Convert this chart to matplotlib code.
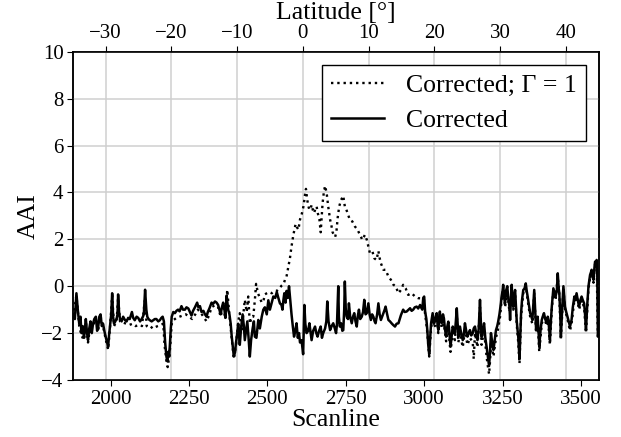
import matplotlib
matplotlib.use('Agg')
import matplotlib.pyplot as plt

# Corrected AAI (solid)
scan_corr = [
    1881, 1886, 1891, 1896, 1900, 1904, 1907, 1911, 1915, 1918, 1921, 1925, 1928, 1932, 1936, 1940,
    1944, 1948, 1953, 1957, 1960, 1964, 1968, 1972, 1976, 1980, 1985, 1989, 1992, 1995, 1998, 2002,
    2005, 2008, 2011, 2015, 2019, 2022, 2024, 2027, 2030, 2035, 2040, 2046, 2051, 2056, 2061, 2068,
    2072, 2077, 2083, 2088, 2094, 2099, 2103, 2106, 2110, 2114, 2117, 2121, 2125, 2131, 2136, 2141,
    2146, 2152, 2157, 2162, 2166, 2170, 2174, 2178, 2181, 2184, 2187, 2189, 2192, 2195, 2200, 2205,
    2210, 2215, 2220, 2226, 2231, 2237, 2242, 2248, 2253, 2258, 2263, 2269, 2276, 2280, 2285, 2290,
    2296, 2301, 2306, 2310, 2315, 2319, 2322, 2327, 2333, 2338, 2343, 2347, 2351, 2355, 2359, 2363,
    2366, 2370, 2375, 2379, 2383, 2386, 2389, 2393, 2397, 2400, 2404, 2407, 2412, 2416, 2421, 2425,
    2428, 2432, 2436, 2440, 2444, 2448, 2453, 2457, 2460, 2465, 2471, 2476, 2482, 2487, 2492, 2498,
    2503, 2508, 2514, 2519, 2525, 2530, 2535, 2540, 2545, 2548, 2551, 2554, 2558, 2561, 2565, 2569,
    2573, 2577, 2581, 2585, 2589, 2593, 2597, 2601, 2604, 2609, 2614, 2618, 2621, 2625, 2630, 2634,
    2638, 2641, 2646, 2652, 2656, 2660, 2665, 2670, 2674, 2678, 2684, 2688, 2691, 2695, 2700, 2705,
    2710, 2715, 2719, 2722, 2726, 2728, 2731, 2735, 2739, 2742, 2745, 2747, 2750, 2753, 2757, 2760,
    2764, 2769, 2773, 2777, 2781, 2785, 2788, 2792, 2796, 2801, 2805, 2809, 2813, 2817, 2822, 2826,
    2830, 2834, 2838, 2842, 2845, 2850, 2854, 2858, 2862, 2866, 2870, 2874, 2877, 2882, 2886, 2891,
    2896, 2901, 2907, 2912, 2918, 2922, 2926, 2930, 2933, 2938, 2944, 2950, 2955, 2960, 2965, 2970,
    2976, 2981, 2987, 2990, 2994, 2997, 3000, 3003, 3007, 3010, 3013, 3016, 3019, 3022, 3027, 3031,
    3034, 3037, 3040, 3043, 3045, 3048, 3050, 3053, 3056, 3060, 3063, 3066, 3070, 3074, 3077, 3080,
    3084, 3088, 3091, 3095, 3098, 3101, 3104, 3107, 3109, 3112, 3114, 3118, 3123, 3127, 3130, 3134,
    3138, 3142, 3146, 3150, 3155, 3158, 3162, 3166, 3170, 3174, 3178, 3181, 3183, 3187, 3191, 3195,
    3199, 3203, 3207, 3210, 3213, 3217, 3221, 3225, 3229, 3233, 3236, 3240, 3242, 3245, 3247, 3250,
    3252, 3255, 3258, 3261, 3265, 3268, 3272, 3274, 3277, 3279, 3282, 3284, 3287, 3290, 3293, 3295,
    3298, 3300, 3304, 3307, 3309, 3312, 3316, 3320, 3324, 3327, 3330, 3334, 3338, 3342, 3345, 3348,
    3351, 3354, 3357, 3360, 3362, 3365, 3367, 3371, 3375, 3378, 3382, 3386, 3391, 3394, 3396, 3399,
    3401, 3404, 3407, 3410, 3412, 3416, 3419, 3423, 3426, 3429, 3431, 3434, 3436, 3440, 3444, 3447,
    3449, 3453, 3457, 3461, 3465, 3470, 3474, 3479, 3482, 3486, 3490, 3494, 3498, 3502, 3506, 3510,
    3513, 3516, 3520, 3524, 3527, 3529, 3532, 3534, 3537, 3540, 3543, 3545, 3548, 3550, 3552, 3554,
    3556,
]
aai_corr = [
    -1.2, -1.4, -0.3, -1.1, -1.6, -1.3, -2.0, -1.7, -2.2, -1.9, -1.4, -2.0, -2.3, -1.8, -1.5, -2.0,
    -1.6, -1.4, -1.3, -1.9, -1.8, -1.3, -1.2, -1.7, -1.6, -1.9, -2.2, -2.4, -2.6, -2.1, -1.7, -1.2,
    -0.3, -1.3, -1.6, -1.5, -1.4, -1.2, -0.35, -1.1, -1.4, -1.5, -1.3, -1.45, -1.5, -1.35, -1.4, -1.1,
    -1.35, -1.45, -1.3, -1.35, -1.5, -1.4, -1.3, -1.2, -0.15, -1.0, -1.3, -1.4, -1.45, -1.5, -1.45, -1.4,
    -1.4, -1.5, -1.45, -1.35, -1.3, -1.5, -2.4, -3.0, -3.2, -2.8, -3.0, -2.5, -1.8, -1.3, -1.1, -1.15,
    -1.05, -1.0, -1.07, -0.85, -1.0, -1.0, -0.9, -0.95, -1.1, -1.25, -1.05, -0.9, -0.7, -0.9, -0.85, -1.1,
    -1.05, -1.2, -1.3, -1.1, -0.95, -0.8, -0.7, -0.75, -0.65, -0.7, -0.8, -1.0, -1.2, -0.9, -0.7, -1.0,
    -1.35, -0.4, -1.0, -1.2, -1.6, -2.1, -2.5, -3.0, -2.8, -2.4, -2.0, -1.6, -2.5, -1.8, -1.2, -1.7,
    -2.3, -1.9, -1.5, -2.2, -3.0, -2.3, -1.8, -1.5, -2.15, -2.2, -1.44, -1.8, -1.3, -1.0, -0.9, -1.2,
    -0.6, -1.0, -0.7, -0.44, -0.5, -0.25, -0.5, -0.73, -0.8, -1.0, -0.6, -0.3, -0.7, -0.2, -0.5, 0.0,
    -0.6, -1.2, -1.7, -2.15, -1.9, -1.58, -2.2, -2.0, -2.4, -2.3, -2.9, -0.8, -1.6, -2.0, -1.9, -1.58,
    -2.0, -2.3, -1.9, -1.72, -2.0, -2.15, -1.9, -1.72, -2.2, -2.0, -1.8, -1.5, -0.65, -1.5, -1.87, -1.7,
    -1.58, -1.8, -2.0, -1.6, 0.0, -1.3, -1.72, -1.58, -1.9, -1.87, -1.0, 0.2, -1.0, -1.3, -1.4, -0.73,
    -1.3, -1.58, -1.3, -1.15, -1.5, -1.72, -1.3, -1.0, -1.4, -1.3, -1.1, -0.58, -1.2, -1.15, -0.73, -1.2,
    -1.44, -1.2, -1.3, -1.5, -1.58, -1.2, -0.73, -1.2, -1.44, -1.3, -1.15, -1.0, -0.87, -1.2, -1.44, -1.5,
    -1.58, -1.65, -1.72, -1.6, -1.58, -1.4, -1.23, -1.1, -1.0, -1.1, -1.08, -1.0, -0.94, -1.05, -1.0, -0.9,
    -0.87, -0.95, -0.8, -0.9, -1.0, -0.5, -0.44, -1.08, -1.4, -1.87, -2.5, -2.9, -2.2, -1.58, -1.15, -1.6,
    -1.51, -1.3, -1.15, -1.7, -1.87, -1.4, -1.08, -1.5, -1.58, -1.2, -1.37, -1.8, -2.15, -1.7, -1.51, -1.9,
    -2.58, -2.1, -1.72, -1.9, -2.0, -1.5, -0.94, -1.7, -2.15, -1.9, -1.72, -2.0, -2.3, -2.0, -1.58, -1.9,
    -2.15, -2.0, -1.87, -2.1, -2.0, -1.8, -1.72, -2.0, -2.3, -1.8, -0.58, -1.6, -2.15, -1.9, -1.58, -2.2,
    -2.58, -3.0, -3.4, -2.8, -2.0, -2.4, -2.72, -2.3, -1.87, -1.7, -1.51, -1.2, -1.0, -0.7, -0.44, -0.2,
    0.06, -0.5, -0.73, -0.2, 0.0, -0.5, -0.87, -1.44, -0.4, 0.06, -0.6, -0.87, -0.4, -0.16, -0.9, -1.44,
    -1.9, -2.15, -3.1, -2.0, -1.15, -0.6, -0.16, -0.1, 0.12, -0.2, -0.44, -0.8, -1.15, -1.3, -1.44, -0.8,
    -0.16, -1.0, -1.87, -1.6, -1.3, -2.0, -2.58, -1.9, -1.44, -1.3, -1.15, -1.4, -1.58, -1.3, -1.44, -1.9,
    -2.3, -1.5, -0.87, -0.4, -0.09, -0.3, -0.44, -0.2, 0.55, -0.1, -0.3, -1.2, -2.15, -1.0, 0.0, -0.5,
    -0.87, -1.1, -1.3, -1.5, -1.72, -1.44, -0.9, -0.44, -0.6, -0.3, -0.6, -0.87, -0.6, -0.44, -0.6, -0.73,
    -1.2, -1.87, -0.8, 0.0, 0.3, 0.48, 0.6, 0.7, 0.4, 0.27, 0.8, 1.05, 1.0, 1.12, 0.5, -2.15,
    -2.1,
]

# Corrected AAI with Gamma = 1 (dotted)
scan_g1 = [
    1881, 1891, 1900, 1907, 1915, 1921, 1928, 1936, 1944, 1953, 1960, 1968, 1976, 1985, 1992, 1998,
    2005, 2011, 2019, 2024, 2030, 2040, 2050, 2060, 2070, 2080, 2090, 2100, 2110, 2115, 2120, 2128,
    2135, 2142, 2150, 2160, 2168, 2172, 2178, 2182, 2186, 2190, 2195, 2200, 2210, 2220, 2230, 2240,
    2250, 2260, 2270, 2278, 2286, 2296, 2306, 2315, 2322, 2333, 2343, 2351, 2359, 2366, 2372, 2378,
    2386, 2393, 2400, 2407, 2412, 2418, 2428, 2434, 2439, 2444, 2450, 2455, 2460, 2464, 2470, 2476,
    2482, 2487, 2492, 2498, 2505, 2514, 2522, 2530, 2538, 2545, 2552, 2556, 2561, 2567, 2572, 2577,
    2583, 2590, 2595, 2599, 2604, 2610, 2615, 2620, 2623, 2627, 2631, 2634, 2638, 2641, 2645, 2649,
    2653, 2657, 2661, 2666, 2670, 2673, 2676, 2680, 2684, 2689, 2694, 2700, 2704, 2708, 2712, 2716,
    2720, 2724, 2729, 2735, 2742, 2747, 2751, 2756, 2763, 2771, 2779, 2788, 2795, 2803, 2811, 2817,
    2822, 2827, 2835, 2841, 2848, 2854, 2858, 2862, 2870, 2877, 2886, 2894, 2902, 2909, 2918, 2926,
    2933, 2941, 2949, 2960, 2971, 2981, 2994, 2999, 3003, 3007, 3010, 3016, 3022, 3027, 3034, 3040,
    3045, 3050, 3056, 3063, 3070, 3077, 3084, 3091, 3098, 3104, 3109, 3114, 3123, 3130, 3138, 3146,
    3155, 3158, 3162, 3170, 3178, 3183, 3191, 3199, 3203, 3207, 3210, 3213, 3221, 3229, 3236, 3242,
    3247, 3252, 3258, 3265, 3272, 3279, 3284, 3290, 3295, 3300, 3304, 3309, 3316, 3324, 3330, 3338,
    3345, 3351, 3357, 3362, 3367, 3375, 3382, 3391, 3396, 3401, 3407, 3412, 3419, 3426, 3431, 3436,
    3444, 3449, 3457, 3465, 3470, 3479, 3486, 3494, 3502, 3510, 3516, 3524, 3529, 3534, 3540, 3545,
    3550, 3554,
]
aai_g1 = [
    -1.3, -0.4, -1.7, -2.1, -2.3, -1.5, -2.4, -1.6, -1.7, -1.4, -1.9, -1.3, -1.7, -2.3, -2.7, -1.8,
    -0.4, -1.7, -1.5, -0.5, -1.5, -1.55, -1.6, -1.65, -1.6, -1.7, -1.65, -1.7, -0.5, -1.7, -1.75, -1.8,
    -1.7, -1.75, -1.7, -1.65, -1.6, -2.5, -3.2, -3.45, -3.1, -2.6, -1.6, -1.45, -1.35, -1.3, -1.25, -1.2,
    -1.3, -1.4, -1.2, -1.0, -1.1, -1.3, -1.5, -1.2, -0.9, -0.8, -0.9, -1.3, -0.8, -1.4, -0.15, -1.1,
    -2.2, -3.1, -2.5, -1.5, -1.15, -1.9, -0.58, -1.1, -0.44, -1.6, -1.3, -1.3, -0.6, 0.1, -0.3, -0.5,
    -0.7, -0.65, -0.35, -0.3, -0.25, -0.3, -0.2, -0.2, -0.1, 0.02, 0.1, 0.27, 0.41, 0.84, 1.2, 1.7,
    2.2, 2.65, 2.5, 2.41, 2.84, 3.1, 3.4, 3.9, 4.15, 3.69, 3.4, 3.26, 3.3, 3.47, 3.25, 3.12,
    3.3, 3.4, 3.1, 2.84, 2.3, 2.9, 3.54, 4.0, 4.28, 3.97, 3.4, 2.84, 2.6, 2.3, 2.2, 2.1,
    2.3, 2.9, 3.4, 3.68, 3.85, 3.4, 3.3, 3.1, 2.83, 2.76, 2.55, 2.4, 2.19, 1.98, 2.19, 1.98,
    1.69, 1.41, 1.48, 1.19, 1.12, 1.5, 1.2, 0.98, 0.7, 0.7, 0.41, 0.27, 0.06, 0.0, -0.3, -0.16,
    0.06, -0.09, -0.37, -0.3, -0.44, -0.51, -0.52, -0.55, -1.2, -1.6, -2.0, -3.0, -1.8, -1.3, -1.7, -1.3,
    -2.0, -1.2, -1.8, -1.6, -2.35, -1.8, -2.8, -2.0, -2.3, -1.2, -2.4, -2.0, -2.6, -1.9, -2.5, -2.2,
    -2.4, -3.1, -2.0, -2.6, -0.9, -2.5, -1.9, -3.0, -3.4, -3.75, -3.2, -2.4, -3.0, -2.2, -1.8, -1.3,
    -0.6, -0.1, -0.9, -0.2, -1.1, -0.1, -1.0, -0.3, -1.6, -2.4, -3.3, -1.3, -0.3, 0.0, -0.6, -1.3,
    -1.6, -0.3, -2.0, -1.5, -2.8, -1.6, -1.3, -1.7, -1.6, -2.5, -1.0, -0.2, -0.6, 0.4, -0.4, -2.3,
    -0.1, -1.0, -1.4, -1.9, -1.6, -0.6, -0.4, -1.0, -0.6, -0.9, -2.0, -0.1, 0.35, 0.6, 0.15, 0.95,
    1.0, -2.2,
]

lat_ticks = [-30, -20, -10, 0, 10, 20, 30, 40]
scan_ticks = [2000, 2250, 2500, 2750, 3000, 3250, 3500]
aai_ticks = [-4, -2, 0, 2, 4, 6, 8, 10]

# scanline -> latitude (approximately linear along the orbit)
SCAN_EQ = 2613.0
SCAN_PER_DEG = 20.96


def to_lat(s):
    return (s - SCAN_EQ) / SCAN_PER_DEG


plt.rcParams['font.family'] = ['Liberation Serif', 'DejaVu Serif']

fig = plt.figure(figsize=(6.21, 4.37), dpi=100)
ax = fig.add_axes([0.118, 0.1304, 0.8458, 0.7513])
ax2 = ax.twiny()

xlim = (1881, 3556)
ax.set_xlim(*xlim)
ax.set_ylim(-4, 10)
ax2.set_xlim(to_lat(xlim[0]), to_lat(xlim[1]))

# latitude axis carries the vertical grid, draw it below the data axes
ax.set_zorder(ax2.get_zorder() + 1)
ax.patch.set_visible(False)
ax2.grid(True, axis='x', color='#cfcfcf', linewidth=1.1)
ax.grid(True, axis='y', color='#cfcfcf', linewidth=1.1)
ax.set_axisbelow(True)

ax.plot(scan_g1, aai_g1, linestyle=':', color='black', linewidth=1.7,
        label='Corrected; Γ = 1')
ax.plot(scan_corr, aai_corr, linestyle='-', color='black', linewidth=1.8,
        label='Corrected')

ax.set_xticks(scan_ticks)
ax.set_yticks(aai_ticks)
ax2.set_xticks(lat_ticks)
ax.tick_params(labelsize=15, length=4, width=0.8, pad=3)
ax2.tick_params(labelsize=15, length=4, width=0.8, pad=2)

ax.set_xlabel('Scanline', fontsize=18.5, labelpad=0)
ax.set_ylabel('AAI', fontsize=18.5, labelpad=1)
ax2.set_xlabel('Latitude [°]', fontsize=18.5, labelpad=4)

for a in (ax, ax2):
    for sp in a.spines.values():
        sp.set_linewidth(1.1)

leg = ax.legend(loc='upper right', bbox_to_anchor=(0.9756, 0.9595),
                borderaxespad=0, fontsize=18.5, fancybox=False, framealpha=1,
                edgecolor='black', handlelength=2.05, handletextpad=0.85,
                labelspacing=0.45, borderpad=0.35)
leg.get_frame().set_linewidth(1.0)

fig.savefig('out.png', dpi=100)
